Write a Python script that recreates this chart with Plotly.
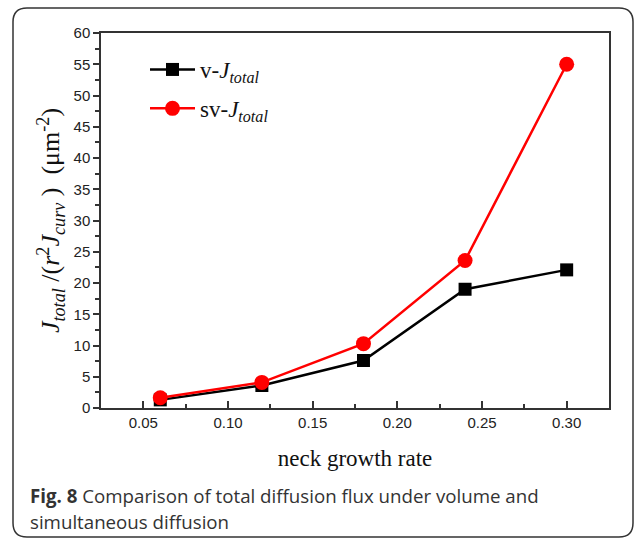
import plotly.graph_objects as go

# neck growth rate and normalised total diffusion flux
rate = [0.06, 0.12, 0.18, 0.24, 0.30]
v_total = [1.3, 3.6, 7.6, 19.0, 22.1]
sv_total = [1.65, 4.1, 10.3, 23.6, 55.0]

W, H = 634, 542
L, R, T, B = 101, 25, 33, 134
pw, ph = W - L - R, H - T - B


def px(x):
    return (x - L) / pw


def py(y):
    return (H - B - y) / ph


fig = go.Figure()
fig.add_trace(go.Scatter(
    x=rate, y=v_total, mode="lines+markers",
    name="v-<i>J</i><sub><i>total</i></sub>", legendgroup="v",
    line=dict(color="black", width=2.5),
    marker=dict(symbol="square", size=13, color="black"),
))
fig.add_trace(go.Scatter(
    x=rate, y=sv_total, mode="lines+markers",
    name="sv-<i>J</i><sub><i>total</i></sub>", legendgroup="sv",
    line=dict(color="#ff0000", width=2.5),
    marker=dict(symbol="circle", size=15, color="#ff0000"),
))

axis_common = dict(
    showline=True, linecolor="#333333", linewidth=1.5, mirror=True,
    showgrid=False, zeroline=False, tickcolor="#333333",
    tickfont=dict(family="Liberation Sans, Arial", size=15, color="#222222"),
)

fig.update_xaxes(
    range=[0.025, 0.325], tickvals=[0.05, 0.10, 0.15, 0.20, 0.25, 0.30],
    ticktext=["0.05", "0.10", "0.15", "0.20", "0.25", "0.30"],
    ticks="inside", ticklen=7, tickwidth=1.5,
    minor=dict(tickvals=[0.075, 0.125, 0.175, 0.225, 0.275], ticks="inside",
               ticklen=4, tickcolor="#333333", tickwidth=1.5),
    title=dict(text="neck growth rate", standoff=20,
               font=dict(family="Liberation Serif, Times New Roman", size=23, color="#111111")),
    **axis_common,
)
fig.update_yaxes(
    range=[0, 60], dtick=5, ticks="outside", ticklen=6, tickwidth=1.5,
    minor=dict(dtick=2.5, ticks="outside", ticklen=4, tickcolor="#333333", tickwidth=1.5),
    title=dict(
        text="<i>J</i><sub><i>total</i></sub> /(<i>r</i><sup>2</sup><i>J</i><sub><i>curv</i></sub> )  (μm<sup>-2</sup>)",
        standoff=6,
        font=dict(family="Liberation Serif, Times New Roman", size=26, color="#111111")),
    **axis_common,
)

# rounded frame around figure and caption
x0, x1, y0, y1, r = px(13), px(633), py(8), py(537), 14
rx, ry = r / pw, r / ph
path = (
    f"M {x0 + rx},{y0} L {x1 - rx},{y0} Q {x1},{y0} {x1},{y0 - ry} "
    f"L {x1},{y1 + ry} Q {x1},{y1} {x1 - rx},{y1} "
    f"L {x0 + rx},{y1} Q {x0},{y1} {x0},{y1 + ry} "
    f"L {x0},{y0 - ry} Q {x0},{y0} {x0 + rx},{y0} Z"
)
fig.add_shape(type="path", path=path, xref="paper", yref="paper",
              line=dict(color="#333333", width=1.5))

caption_font = dict(family="Open Sans", size=18.7, color="#333333")
fig.add_annotation(
    x=px(28), y=py(495), xref="paper", yref="paper", xanchor="left", yanchor="middle",
    text="<b>Fig. 8</b> Comparison of total diffusion flux under volume and",
    showarrow=False, font=caption_font,
)
fig.add_annotation(
    x=px(28), y=py(521), xref="paper", yref="paper", xanchor="left", yanchor="middle",
    text="simultaneous diffusion", showarrow=False, font=caption_font,
)

fig.update_layout(
    width=W, height=H, margin=dict(l=L, r=R, t=T, b=B),
    paper_bgcolor="white", plot_bgcolor="white",
    showlegend=True,
    legend=dict(x=px(145), y=py(48), xanchor="left", yanchor="top",
                bgcolor="rgba(0,0,0,0)", itemwidth=45, tracegroupgap=6,
                font=dict(family="Liberation Serif, Times New Roman", size=23, color="#111111")),
)

fig.write_html("out.html")
